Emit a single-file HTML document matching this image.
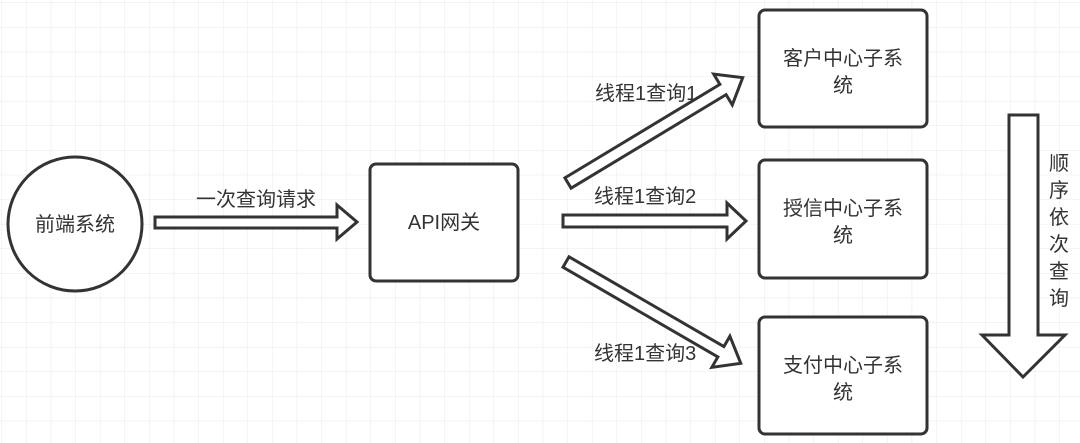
<!DOCTYPE html>
<html><head><meta charset="utf-8"><style>
html,body{margin:0;padding:0;width:1080px;height:443px;overflow:hidden;background:#fff}
svg text{font-family:"Liberation Sans","Noto Sans CJK SC",sans-serif;fill:#333}
</style></head><body>
<svg width="1080" height="443" viewBox="0 0 1080 443" xmlns="http://www.w3.org/2000/svg">
<defs>
<pattern id="g" x="2" y="3" width="24.6" height="24.6" patternUnits="userSpaceOnUse">
<path d="M24.6 0V24.6M0 24.6H24.6" stroke="#e8e8e8" stroke-width="1" fill="none"/>
</pattern>
</defs>
<rect width="1080" height="443" fill="url(#g)"/>
<g stroke="#333" stroke-width="3" fill="#fff" stroke-linejoin="miter">
<circle cx="75" cy="224" r="67"/>
<rect x="370" y="164" width="148" height="117" rx="6"/>
<rect x="759" y="10" width="168" height="117" rx="6"/>
<rect x="759" y="160" width="168" height="118" rx="6"/>
<rect x="759" y="317" width="168" height="117" rx="6"/>
<polygon points="155,217 337,217 337,205 357,222 337,239 337,228 155,228"/>
<polygon points="563,215 727,215 727,203 746,221 727,239 727,227 563,227"/>
<g transform="translate(568,183) rotate(-31.1)">
<polygon points="0,-6 181,-6 181,-18 204,0 181,18 181,6 0,6"/>
</g>
<g transform="translate(566,262) rotate(30.1)">
<polygon points="0,-6 179,-6 179,-18 202,0 179,18 179,6 0,6"/>
</g>
<polygon points="1009,115 1038,115 1038,335 1065,335 1023,377 982,335 1009,335"/>
</g>
<g font-size="20">
<text x="75" y="231" text-anchor="middle">前端系统</text>
<text x="444" y="229" text-anchor="middle">API网关</text>
<text x="256" y="206" text-anchor="middle">一次查询请求</text>
<text x="595" y="100">线程1查询1</text>
<text x="594" y="203">线程1查询2</text>
<text x="594" y="360">线程1查询3</text>
<text x="843" y="65" text-anchor="middle">客户中心子系</text>
<text x="843" y="92" text-anchor="middle">统</text>
<text x="843" y="215" text-anchor="middle">授信中心子系</text>
<text x="843" y="242" text-anchor="middle">统</text>
<text x="843" y="372" text-anchor="middle">支付中心子系</text>
<text x="843" y="399" text-anchor="middle">统</text>
<g text-anchor="middle">
<text x="1059" y="170">顺</text>
<text x="1059" y="197">序</text>
<text x="1059" y="224">依</text>
<text x="1059" y="251">次</text>
<text x="1059" y="278">查</text>
<text x="1059" y="305">询</text>
</g>
</g>
</svg>
</body></html>
